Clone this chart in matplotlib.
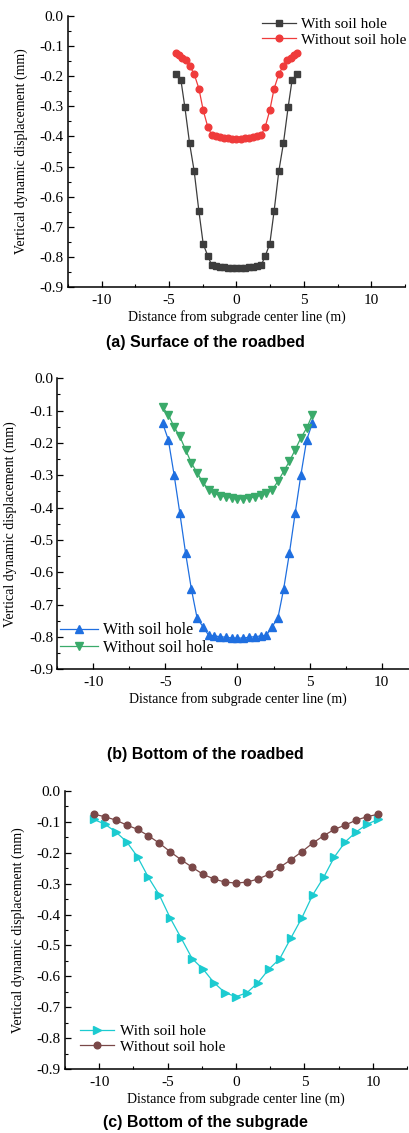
import matplotlib
matplotlib.use("Agg")
import matplotlib.pyplot as plt
from matplotlib.ticker import MultipleLocator

plt.rcParams['font.family'] = ['Liberation Serif', 'DejaVu Serif']
plt.rcParams['axes.unicode_minus'] = False

# (a) Surface of the roadbed
xa_with = [-4.52, -4.12, -3.83, -3.48, -3.14, -2.79, -2.47, -2.12, -1.83, -1.5, -1.2, -0.9, -0.6, -0.3, 0.0,
           0.3, 0.6, 0.9, 1.2, 1.5, 1.83, 2.12, 2.47, 2.79, 3.14, 3.48, 3.83, 4.12, 4.52]
ya_with = [-0.193, -0.214, -0.303, -0.423, -0.515, -0.648, -0.757, -0.798, -0.828, -0.830, -0.832, -0.834,
           -0.836, -0.837, -0.838, -0.837, -0.836, -0.834, -0.832, -0.830, -0.828, -0.798, -0.757, -0.648,
           -0.515, -0.423, -0.303, -0.214, -0.193]
xa_without = [-4.52, -4.27, -4.02, -3.78, -3.48, -3.14, -2.79, -2.47, -2.12, -1.83, -1.5, -1.2, -0.9, -0.6,
              -0.3, 0.0, 0.3, 0.6, 0.9, 1.2, 1.5, 1.83, 2.12, 2.47, 2.79, 3.14, 3.48, 3.78, 4.02, 4.27, 4.52]
ya_without = [-0.124, -0.131, -0.138, -0.147, -0.165, -0.193, -0.241, -0.313, -0.370, -0.395, -0.398, -0.401,
              -0.404, -0.406, -0.408, -0.410, -0.408, -0.406, -0.404, -0.401, -0.398, -0.395, -0.370, -0.313,
              -0.241, -0.193, -0.165, -0.147, -0.138, -0.131, -0.124]

# (b) Bottom of the roadbed
xb = [-5.2, -4.8, -4.4, -4.0, -3.6, -3.2, -2.8, -2.4, -2.0, -1.6, -1.2, -0.8, -0.4, 0.0,
      0.4, 0.8, 1.2, 1.6, 2.0, 2.4, 2.8, 3.2, 3.6, 4.0, 4.4, 4.8, 5.2]
yb_with = [-0.138, -0.190, -0.298, -0.417, -0.541, -0.652, -0.742, -0.768, -0.795, -0.797, -0.799, -0.801,
           -0.803, -0.804, -0.803, -0.801, -0.799, -0.797, -0.795, -0.768, -0.742, -0.652, -0.541, -0.417,
           -0.298, -0.190, -0.138]
yb_without = [-0.090, -0.112, -0.150, -0.180, -0.221, -0.262, -0.292, -0.322, -0.345, -0.356, -0.363, -0.367,
              -0.370, -0.373, -0.372, -0.370, -0.367, -0.362, -0.355, -0.345, -0.319, -0.288, -0.257, -0.221,
              -0.184, -0.154, -0.112]

# (c) Bottom of the subgrade
xc = [-10.4, -9.6, -8.8, -8.0, -7.2, -6.4, -5.6, -4.8, -4.0, -3.2, -2.4, -1.6, -0.8, 0.0,
      0.8, 1.6, 2.4, 3.2, 4.0, 4.8, 5.6, 6.4, 7.2, 8.0, 8.8, 9.6, 10.4]
yc_with = [-0.092, -0.107, -0.132, -0.164, -0.213, -0.280, -0.337, -0.412, -0.477, -0.543, -0.577, -0.621,
           -0.653, -0.666, -0.653, -0.621, -0.577, -0.543, -0.477, -0.412, -0.337, -0.280, -0.213, -0.164,
           -0.132, -0.107, -0.092]
yc_without = [-0.075, -0.083, -0.094, -0.110, -0.124, -0.145, -0.169, -0.197, -0.223, -0.247, -0.270, -0.285,
              -0.295, -0.298, -0.295, -0.285, -0.270, -0.247, -0.223, -0.197, -0.169, -0.145, -0.124, -0.110,
              -0.094, -0.083, -0.075]

labels = ['With soil hole', 'Without soil hole']
titles = ['(a) Surface of the roadbed', '(b) Bottom of the roadbed', '(c) Bottom of the subgrade']

W, H = 410, 1133


def px_box(left, top, right, bottom):
    return [left / W, 1 - bottom / H, (right - left) / W, (bottom - top) / H]


def style_axes(ax, ylab_x):
    ax.set_xlim(-12.5, 12.5)
    ax.set_ylim(-0.9, 0.0)
    ax.xaxis.set_major_locator(MultipleLocator(5))
    ax.xaxis.set_minor_locator(MultipleLocator(2.5))
    ax.yaxis.set_major_locator(MultipleLocator(0.1))
    ax.yaxis.set_minor_locator(MultipleLocator(0.05))
    ax.yaxis.set_major_formatter(matplotlib.ticker.FormatStrFormatter('%.1f'))
    for s in ['top', 'right']:
        ax.spines[s].set_visible(False)
    for s in ['left', 'bottom']:
        ax.spines[s].set_linewidth(1.1)
    ax.tick_params(which='major', direction='in', length=4, width=0.9, labelsize=11)
    ax.tick_params(which='minor', direction='in', length=2.5, width=0.8)
    ax.tick_params(axis='x', which='major', pad=5)
    ax.tick_params(axis='y', which='major', pad=3)
    ax.set_xlabel('Distance from subgrade center line (m)', fontsize=10, labelpad=2)
    ax.set_ylabel('Vertical dynamic displacement (mm)', fontsize=10)
    ax.yaxis.set_label_coords(ylab_x, 0.5)


fig = plt.figure(figsize=(W / 100, H / 100), dpi=100)

ax1 = fig.add_axes(px_box(68, 16, 405, 287))
ax1.plot(xa_with, ya_with, color='#3d3d3d', marker='s', markersize=4.5, lw=0.9, label=labels[0])
ax1.plot(xa_without, ya_without, color='#ef3b3b', marker='o', markersize=4.8, lw=0.9, label=labels[1])
style_axes(ax1, -0.119)
ax1.legend(loc='center left', bbox_to_anchor=(262 / W, 1 - 32 / H), bbox_transform=fig.transFigure,
           frameon=False, fontsize=11, handlelength=2.2, handletextpad=0.35, labelspacing=0.15,
           borderpad=0, borderaxespad=0, numpoints=1)

ax2 = fig.add_axes(px_box(57.3, 378.3, 417.7, 669.3))
ax2.plot(xb, yb_with, color='#1f6fe0', marker='^', markersize=5.4, lw=0.9, label=labels[0])
ax2.plot(xb, yb_without, color='#3aaa6a', marker='v', markersize=5.4, lw=0.9, label=labels[1])
style_axes(ax2, -0.112)
ax2.legend(loc='center left', bbox_to_anchor=(60 / W, 1 - 639 / H), bbox_transform=fig.transFigure,
           frameon=False, fontsize=11.5, handlelength=2.4, handletextpad=0.3, labelspacing=0.1,
           borderpad=0, borderaxespad=0, numpoints=1)

ax3 = fig.add_axes(px_box(65, 791, 407, 1069))
ax3.plot(xc, yc_with, color='#1ccbd0', marker='>', markersize=5.4, lw=0.9, label=labels[0])
ax3.plot(xc, yc_without, color='#7a4848', marker='o', markersize=4.8, lw=0.9, label=labels[1])
style_axes(ax3, -0.117)
ax3.legend(loc='center left', bbox_to_anchor=(80 / W, 1 - 1039 / H), bbox_transform=fig.transFigure,
           frameon=False, fontsize=11, handlelength=2.2, handletextpad=0.4, labelspacing=0.15,
           borderpad=0, borderaxespad=0, numpoints=1)

for t, y in zip(titles, [342, 755, 1122]):
    fig.text(0.5, 1 - y / H, t, ha='center', va='center', fontsize=11.5, fontweight='bold',
             family=['Liberation Sans', 'DejaVu Sans'])

fig.savefig('out.png', dpi=100)
